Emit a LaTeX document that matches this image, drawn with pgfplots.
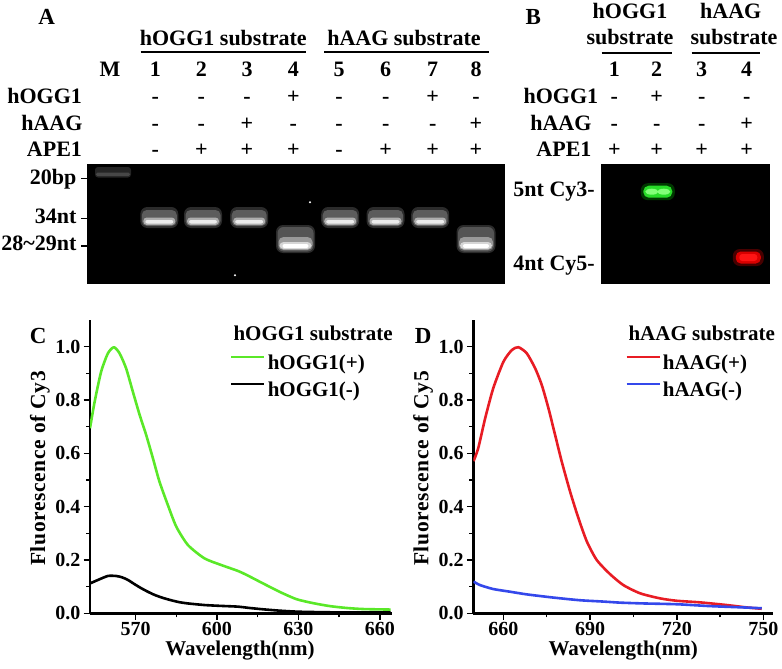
\documentclass[border=0pt]{standalone}
\usepackage{fontspec}
\setmainfont{Liberation Serif}
\newfontfamily\ylabfont[LetterSpace=3]{Liberation Serif}
\usepackage{pgfplots}
\pgfplotsset{compat=1.18}

\definecolor{cgreen}{RGB}{90,232,40}
\definecolor{cred}{RGB}{232,28,36}
\definecolor{cblue}{RGB}{52,72,235}
\definecolor{gmain}{RGB}{40,220,40}
\definecolor{glite}{RGB}{130,255,120}

\newcommand\fA{\fontsize{22}{26}\selectfont\bfseries}
\newcommand\fC{\fontsize{21}{25}\selectfont\bfseries}
\newcommand\fY{\fontsize{21.5}{25}\selectfont\ylabfont\bfseries}
\newcommand\fT{\fontsize{20}{24}\selectfont\bfseries}
\newcommand\fL{\fontsize{23}{27}\selectfont\bfseries}

% gel band marks (drawn in pt around the data point; 1 pt = 1 px)
\newcommand\rrect[6]{% corner, color, x1,y1,x2,y2
  \begin{pgfscope}
    \pgfsetcornersarced{\pgfpoint{#1pt}{#1pt}}
    \pgfsetfillcolor{#2}
    \pgfpathrectanglecorners{\pgfpoint{#3pt}{#4pt}}{\pgfpoint{#5pt}{#6pt}}
    \pgfusepath{fill}
  \end{pgfscope}}
\pgfdeclareplotmark{bandM}{%
  \rrect{3}{white!14!black}{-18}{-5.5}{18}{5}%
  \rrect{1.5}{white!28!black}{-17}{-4}{17}{-0.5}}
\pgfdeclareplotmark{band34}{%
  \rrect{7}{white!17!black}{-19}{-10}{19}{11}%
  \rrect{5}{white!36!black}{-17.5}{-8}{17.5}{8}%
  \rrect{3.5}{white!68!black}{-16}{-7}{16}{0.5}%
  \rrect{2}{white!92!black}{-14}{-5.5}{14}{-2}}
\pgfdeclareplotmark{band28}{%
  \rrect{7}{white!17!black}{-19.5}{-14}{19.5}{14}%
  \rrect{6}{white!33!black}{-18}{-12.5}{18}{12}%
  \rrect{5}{white!60!black}{-17}{-11}{17}{2}%
  \rrect{4}{white!84!black}{-16}{-10}{16}{-3}%
  \rrect{2}{white}{-13}{-9}{13}{-5}}
\pgfdeclareplotmark{speck}{%
  \pgfsetfillcolor{white}\pgfpathcircle{\pgforigin}{1.1pt}\pgfusepath{fill}}
\pgfdeclareplotmark{bandG}{%
  \rrect{7}{green!22!black}{-17}{-8.5}{17}{8.5}%
  \rrect{5.5}{gmain}{-14.5}{-6}{14.5}{6}%
  \begin{pgfscope}
    \pgfsetfillcolor{glite}
    \pgfpathellipse{\pgfpoint{-6pt}{0pt}}{\pgfpoint{6.5pt}{0pt}}{\pgfpoint{0pt}{3pt}}
    \pgfpathellipse{\pgfpoint{6pt}{0pt}}{\pgfpoint{6.5pt}{0pt}}{\pgfpoint{0pt}{3pt}}
    \pgfusepath{fill}
  \end{pgfscope}}
\pgfdeclareplotmark{bandR}{%
  \rrect{7}{red!28!black}{-15.5}{-8.5}{15.5}{8.5}%
  \rrect{5}{red!85!black}{-12.5}{-6}{12.5}{6}%
  \rrect{3}{red!92!white}{-9}{-3.5}{9}{3.5}}

\pgfplotsset{
  spectrum/.style={
    scale only axis, anchor=south west,
    ymin=0, ymax=1.1,
    axis x line*=bottom, axis y line*=left,
    axis line style={line width=2.4pt, black},
    ytick={0,0.2,0.4,0.6,0.8,1.0}, minor y tick num=1, minor x tick num=1,
    tick align=outside, major tick length=6.5pt, minor tick length=4pt,
    tick style={line width=1.5pt, black},
    /pgf/number format/assume math mode=true,
    yticklabel style={font=\fT, inner sep=3pt, /pgf/number format/.cd, fixed, fixed zerofill, precision=1},
    xticklabel style={font=\fT, inner sep=2pt},
    xlabel style={font=\fC, anchor=center},
    ylabel style={font=\fY, anchor=center},
    legend cell align=left,
    legend image code/.code={\draw[##1, line width=2.6pt] (0pt,6pt) -- (33pt,6pt);},
    every axis plot/.append style={line width=2.6pt, line join=round},
  },
  gel/.style={
    scale only axis, anchor=south west, y dir=reverse,
    axis background/.style={fill=black},
    axis line style={black},
    clip=false,
  }
}

\begin{document}
\begin{tikzpicture}
\useasboundingbox (0pt,0pt) rectangle (782pt,-669pt);

% ---------------- Panel A ----------------
\node[font=\fL, anchor=base] at (46.7pt,-25pt) {A};
\node[font=\fA, anchor=base] at (223.3pt,-46pt) {hOGG1 substrate};
\node[font=\fA, anchor=base] at (404pt,-46pt) {hAAG substrate};
\draw[line width=1.8pt] (140.7pt,-51.7pt) -- (306pt,-51.7pt);
\draw[line width=1.8pt] (324pt,-51.7pt) -- (489pt,-51.7pt);
\foreach \x/\t in {110/M,155.3/1,201.3/2,247/3,293.3/4,339/5,385.7/6,432.7/7,476/8}
  \node[font=\fA, anchor=base] at (\x pt,-76.7pt) {\t};
\node[font=\fA, anchor=base east] at (85.5pt,-103.3pt) {hOGG1};
\node[font=\fA, anchor=base east] at (86pt,-130pt) {hAAG};
\node[font=\fA, anchor=base east] at (85.5pt,-156.7pt) {APE1};
\foreach \x/\a/\b/\c in {155.3/-/-/-,201.3/-/-/+,247/-/+/+,293.3/+/-/+,339/-/-/-,385.7/-/-/+,432.7/+/-/+,476/-/+/+}{
  \node[font=\fA, anchor=base] at (\x pt,-103.3pt) {\a};
  \node[font=\fA, anchor=base] at (\x pt,-130pt) {\b};
  \node[font=\fA, anchor=base] at (\x pt,-156.7pt) {\c};
}
\node[font=\fA, anchor=base east] at (80pt,-184pt) {20bp};
\node[font=\fA, anchor=base east] at (80pt,-223.3pt) {34nt};
\node[font=\fA, anchor=base east] at (80pt,-250.7pt) {28\textasciitilde29nt};

\begin{axis}[gel, at={(86.7pt,-283.3pt)}, width=417.3pt, height=119pt,
  xmin=86.7, xmax=504, ymin=164.3, ymax=283.3,
  xtick=\empty, ytick={178.3,218.3,246}, yticklabels={,,}, ytick pos=left,
  tick align=outside, major tick length=5.7pt, tick style={black, line width=1.3pt}]
  \addplot[only marks, mark=bandM] coordinates {(113,172)};
  \addplot[only marks, mark=band34] coordinates {(159.3,218)(203,218)(249.2,218)(340.2,218)(385.5,218)(430.2,218)};
  \addplot[only marks, mark=band28] coordinates {(295.5,239)(476,239)};
  \addplot[only marks, mark=speck] coordinates {(310,202.3)(235,275.3)};
\end{axis}

% ---------------- Panel B ----------------
\node[font=\fL, anchor=base] at (533.3pt,-25pt) {B};
\node[font=\fA, anchor=base] at (630pt,-18.3pt) {hOGG1};
\node[font=\fA, anchor=base] at (630pt,-45pt) {substrate};
\node[font=\fA, anchor=base] at (730.8pt,-18.3pt) {hAAG};
\node[font=\fA, anchor=base] at (734pt,-45pt) {substrate};
\draw[line width=1.8pt] (601.7pt,-53.3pt) -- (671.7pt,-53.3pt);
\draw[line width=1.8pt] (691.7pt,-53.3pt) -- (760pt,-53.3pt);
\foreach \x/\t in {614.3/1,656.7/2,701.7/3,746.7/4}
  \node[font=\fA, anchor=base] at (\x pt,-76.7pt) {\t};
\node[font=\fA, anchor=base east] at (601.7pt,-103.3pt) {hOGG1};
\node[font=\fA, anchor=base east] at (595pt,-130pt) {hAAG};
\node[font=\fA, anchor=base east] at (595pt,-156.7pt) {APE1};
\foreach \x/\a/\b/\c in {614.3/-/-/+,656.7/+/-/+,701.7/-/-/+,746.7/-/+/+}{
  \node[font=\fA, anchor=base] at (\x pt,-103.3pt) {\a};
  \node[font=\fA, anchor=base] at (\x pt,-130pt) {\b};
  \node[font=\fA, anchor=base] at (\x pt,-156.7pt) {\c};
}
\node[font=\fA, anchor=base east] at (598.3pt,-196.7pt) {5nt Cy3-};
\node[font=\fA, anchor=base east] at (598.3pt,-270.7pt) {4nt Cy5-};

\begin{axis}[gel, at={(601pt,-282.7pt)}, width=168pt, height=118.4pt,
  xmin=601, xmax=769, ymin=164.3, ymax=282.7, ticks=none]
  \addplot[only marks, mark=bandG] coordinates {(657.8,191.7)};
  \addplot[only marks, mark=bandR] coordinates {(748.3,257.5)};
\end{axis}

% ---------------- Panel C ----------------
\node[font=\fL, anchor=base] at (38.3pt,-343pt) {C};
\node[font=\fC, anchor=base west] at (230pt,-340pt) {hOGG1 substrate};
\begin{axis}[spectrum, at={(90pt,-613.3pt)}, width=301.7pt, height=293.3pt,
  xmin=553.2, xmax=664.4, xtick={570,600,630,660},
  xlabel={Wavelength(nm)}, ylabel={Fluorescence of Cy3},
  xlabel style={at={(axis description cs:0.497,-0.127)}},
  ylabel style={at={(axis description cs:-0.166,0.494)}},
  legend style={at={(axis description cs:0.464,0.888)}, anchor=north west, draw=none, fill=none,
    font=\fC, inner sep=0pt, row sep=7pt, /tikz/every even column/.style={column sep=8pt}}]
  \addplot[cgreen, smooth, tension=0.4] coordinates {
    (553.2,0.694) (554.9,0.793) (557.3,0.906) (559.8,0.975) (562.0,0.998) (564.1,0.975)
    (566.5,0.919) (569.0,0.831) (571.5,0.744) (573.9,0.669) (576.4,0.581) (578.8,0.494)
    (581.9,0.406) (585.0,0.325) (589.3,0.256) (595.4,0.206) (601.6,0.181) (607.7,0.159)
    (610.9,0.144) (617.0,0.112) (623.2,0.080) (629.3,0.053) (635.5,0.038) (641.6,0.027)
    (647.8,0.020) (653.9,0.016) (664.0,0.014)};
  \addlegendentry{hOGG1(+)}
  \addplot[black, smooth, tension=0.4] coordinates {
    (553.2,0.112) (556.1,0.125) (559.8,0.140) (562.8,0.140) (565.0,0.135) (567.2,0.125)
    (569.5,0.110) (572.1,0.094) (574.5,0.081) (577.0,0.069) (580.0,0.058) (583.1,0.049)
    (586.0,0.042) (589.3,0.037) (595.4,0.031) (601.0,0.028) (607.7,0.025) (612.0,0.020)
    (617.0,0.015) (623.0,0.010) (630.0,0.006) (640.0,0.004) (650.0,0.003) (664.0,0.003)};
  \addlegendentry{hOGG1(-)}
\end{axis}

% ---------------- Panel D ----------------
\node[font=\fL, anchor=base] at (423.3pt,-343pt) {D};
\node[font=\fC, anchor=base west] at (625pt,-340pt) {hAAG substrate};
\begin{axis}[spectrum, at={(473.3pt,-613.3pt)}, width=300pt, height=293.3pt,
  xmin=649.6, xmax=753.4, xtick={660,690,720,750},
  xlabel={Wavelength(nm)}, ylabel={Fluorescence of Cy5},
  xlabel style={at={(axis description cs:0.5,-0.127)}},
  ylabel style={at={(axis description cs:-0.167,0.494)}},
  legend style={at={(axis description cs:0.506,0.888)}, anchor=north west, draw=none, fill=none,
    font=\fC, inner sep=0pt, row sep=7pt, /tikz/every even column/.style={column sep=8pt}}]
  \addplot[cred, smooth, tension=0.4] coordinates {
    (649.7,0.571) (651.3,0.619) (653.7,0.731) (656.5,0.844) (660.0,0.943) (662.9,0.987)
    (665.2,0.998) (668.1,0.975) (671.0,0.919) (673.3,0.856) (675.6,0.769) (677.9,0.669)
    (680.2,0.569) (683.1,0.456) (686.0,0.356) (688.9,0.269) (692.3,0.200) (696.9,0.147)
    (701.5,0.106) (707.3,0.075) (714.2,0.056) (720.0,0.047) (728.1,0.041) (737.3,0.031)
    (744.2,0.022) (749.4,0.017)};
  \addlegendentry{hAAG(+)}
  \addplot[cblue, smooth, tension=0.4] coordinates {
    (649.7,0.119) (651.9,0.106) (656.5,0.091) (662.3,0.081) (668.1,0.071) (677.3,0.059)
    (686.5,0.049) (694.6,0.044) (700.4,0.040) (708.4,0.037) (720.0,0.034) (731.5,0.027)
    (743.1,0.022) (749.4,0.019)};
  \addlegendentry{hAAG(-)}
\end{axis}
\end{tikzpicture}
\end{document}
